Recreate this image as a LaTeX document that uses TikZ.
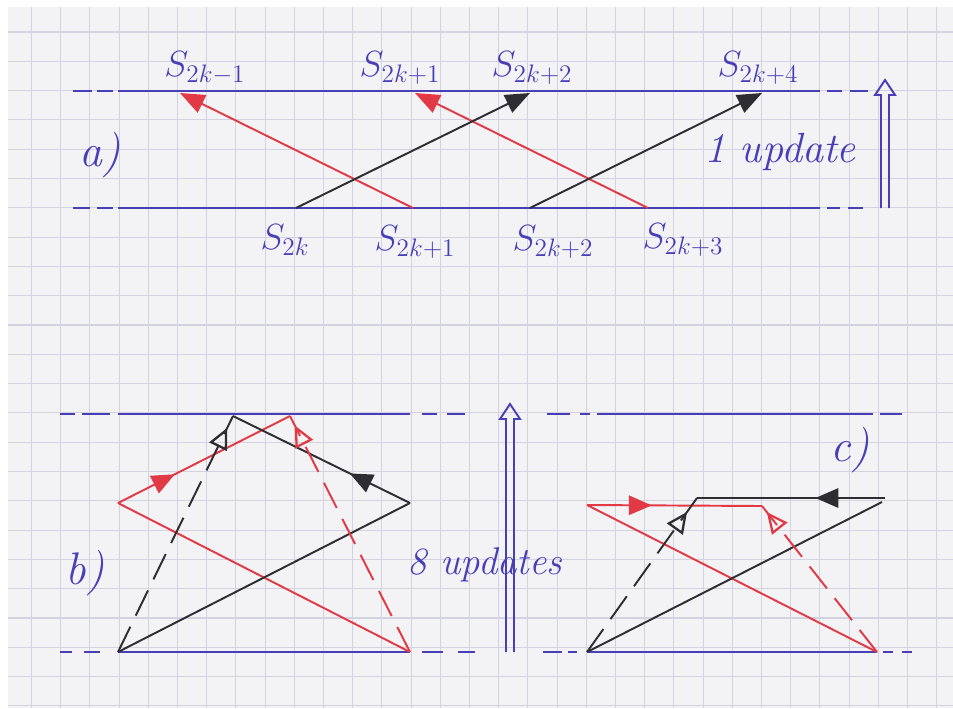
\documentclass[tikz,border=0pt]{standalone}
\usetikzlibrary{arrows.meta,decorations.markings}
\definecolor{paper}{RGB}{243,243,246}
\definecolor{gridc}{RGB}{210,210,224}
\definecolor{ink}{RGB}{72,62,182}
\definecolor{redink}{RGB}{226,58,68}
\definecolor{blk}{RGB}{45,45,50}
\begin{document}
\begin{tikzpicture}[x=0.02cm,y=-0.02cm,
  blueline/.style={draw=ink, line width=1.4pt},
  redl/.style={draw=redink, line width=1.1pt},
  blkl/.style={draw=blk, line width=1.1pt},
  dashl/.style={dash pattern=on 16pt off 7pt},
  fhead/.style={-{Triangle[length=14pt,width=11pt]}},
  midarrow/.style={postaction={decorate}, decoration={markings, mark=at position #1 with {\arrow{Triangle[length=13pt,width=11pt]}}}},
  midopen/.style={postaction={decorate}, decoration={markings, mark=at position #1 with {\arrow{Triangle[open,length=12pt,width=11pt,line width=1.3pt]}}}},
  lbl/.style={text=ink, font=\fontsize{20}{24}\selectfont, inner sep=0pt},
  big/.style={text=ink, font=\fontsize{26}{30}\selectfont\itshape, inner sep=0pt},
  upd/.style={text=ink, font=\fontsize{24}{28}\selectfont\itshape, inner sep=0pt},
  hollow/.style={draw=ink, line width=1.1pt, line join=miter}
]
\useasboundingbox (0,0) rectangle (953,708);
\fill[white] (0,0) rectangle (953,708);
\fill[paper] (8,7) rectangle (953,708);
\foreach \i in {0,...,31} {
  \draw[gridc, line width=0.6pt] ({31.5+29.2*\i},7) -- ({31.5+29.2*\i},708);
}
\foreach \j in {0,...,23} {
  \draw[gridc, line width=0.6pt] (8,{32+29.3*\j}) -- (953,{32+29.3*\j});
}

% ---------- part a ----------
\draw[blueline] (73,91) -- (92,91) (97,91) -- (113,91);
\draw[blueline] (118,91) -- (820,91);
\draw[blueline] (827,91) -- (842,91) (850,91) -- (868,91);
\draw[blueline] (73,208) -- (90,208) (97,208) -- (113,208);
\draw[blueline] (118,208) -- (820,208);
\draw[blueline] (827,208) -- (840,208) (848,208) -- (863,208);

\coordinate (a1) at (180,93);
\coordinate (a2) at (296,208);
\coordinate (a3) at (413,208);
\coordinate (a4) at (415,93);
\coordinate (a5) at (530,93);
\coordinate (a6) at (530,208);
\coordinate (a7) at (648,208);
\coordinate (a8) at (762,93);
\draw[redl, fhead] (a3) -- (a1);
\draw[redl, fhead] (a7) -- (a4);
\draw[blkl, fhead] (a2) -- (a5);
\draw[blkl, fhead] (a6) -- (a8);

\node[lbl] (t1) at (205,68) {$S_{2k-1}$};
\node[lbl] (t2) at (400,68) {$S_{2k+1}$};
\node[lbl] (t3) at (532,68) {$S_{2k+2}$};
\node[lbl] (t4) at (758,68) {$S_{2k+4}$};
\node[lbl] (b1) at (285,240) {$S_{2k}$};
\node[lbl] (b2) at (415,242) {$S_{2k+1}$};
\node[lbl] (b3) at (553,242) {$S_{2k+2}$};
\node[lbl] (b4) at (683,240) {$S_{2k+3}$};
\node[big] (la) at (100,155) {a)};
\node[upd] (u1) at (780,152) {1 update};

% hollow arrow a
\draw[hollow] (881,208) -- (881,95) -- (875,95) -- (885,80) -- (895,95) -- (889,95) -- (889,208);

% ---------- part b ----------
\draw[blueline] (60,414) -- (75,414) (82,414) -- (110,414);
\draw[blueline] (118,414) -- (410,414);
\draw[blueline] (422,414) -- (437,414) (447,414) -- (465,414);
\draw[blueline] (60,652) -- (72,652) (84,652) -- (100,652);
\draw[blueline] (118,652) -- (410,652);
\draw[blueline] (422,652) -- (443,652) (458,652) -- (475,652);

\coordinate (bl) at (118,503);
\coordinate (br) at (410,503);
\coordinate (bbl) at (118,652);
\coordinate (bbr) at (410,652);
\coordinate (btk) at (233,416);
\coordinate (btr) at (290,416);
\draw[redl, midarrow=0.33] (bl) -- (btr);
\draw[redl] (bl) -- (bbr);
\draw[blkl] (bbl) -- (br);
\draw[blkl, midarrow=0.34] (br) -- (btk);
\draw[blkl, dashl, midopen=0.95] (bbl) -- (btk);
\draw[redl, dashl, midopen=0.96] (bbr) -- (btr);

\node[big] (lb) at (85,573) {b)};
\node[upd, font=\fontsize{22}{26}\selectfont\itshape] (u8) at (485,565) {8 updates};
\draw[hollow] (506,652) -- (506,419) -- (500,419) -- (510,404) -- (520,419) -- (514,419) -- (514,652);

% ---------- part c ----------
\draw[blueline] (547,414) -- (570,414) (580,414) -- (590,414);
\draw[blueline] (597,414) -- (873,414);
\draw[blueline] (880,414) -- (902,414);
\draw[blueline] (543,652) -- (562,652) (568,652) -- (577,652);
\draw[blueline] (587,652) -- (877,652);
\draw[blueline] (883,652) -- (893,652) (902,652) -- (912,652);

\coordinate (cl) at (587,505);
\coordinate (cm) at (762,506);
\coordinate (cbl) at (587,652);
\coordinate (cbr) at (877,652);
\coordinate (ctr) at (882,502);
\coordinate (chl) at (697,498);
\coordinate (chr) at (885,498);
\draw[redl, midarrow=0.37] (cl) -- (cm);
\draw[redl] (cl) -- (cbr);
\draw[blkl] (cbl) -- (ctr);
\draw[blkl, midarrow=0.37] (chr) -- (chl);
\draw[blkl, dashl, midopen=0.91] (cbl) -- (chl);
\draw[redl, dashl, midopen=0.96] (cbr) -- (cm);

\node[big] (lc) at (850,450) {c)};
\end{tikzpicture}
\end{document}
